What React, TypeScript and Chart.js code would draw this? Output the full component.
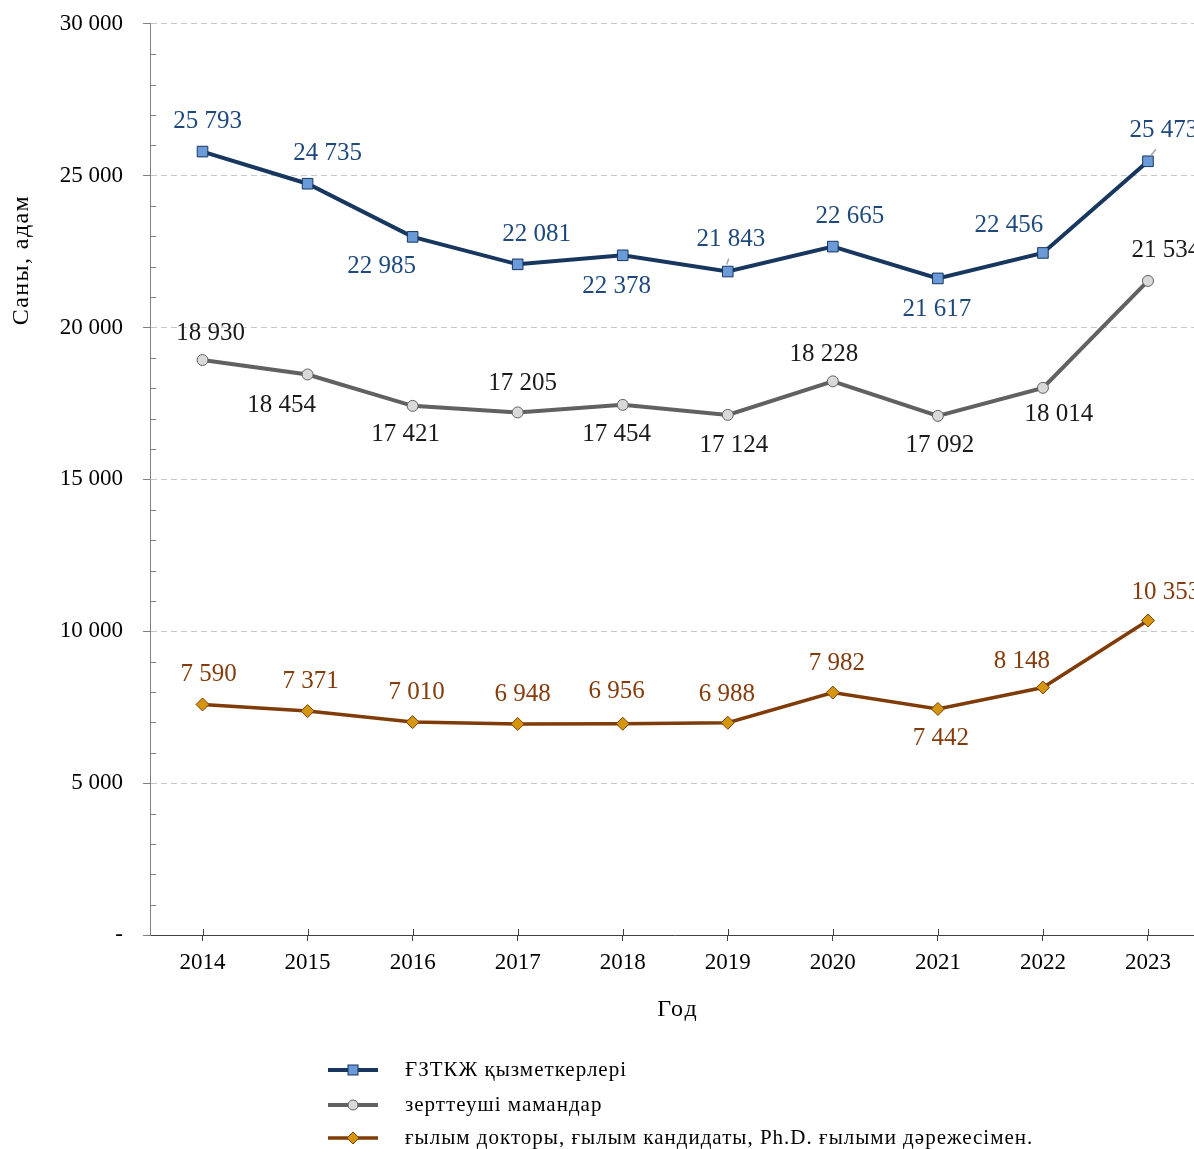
import React, { useEffect, useRef } from "react";
import { Chart, registerables } from "chart.js";

Chart.register(...registerables);

const years = ["2014", "2015", "2016", "2017", "2018", "2019", "2020", "2021", "2022", "2023"];
const staffValues = [25793, 24735, 22985, 22081, 22378, 21843, 22665, 21617, 22456, 25473];
const researcherValues = [18930, 18454, 17421, 17205, 17454, 17124, 18228, 17092, 18014, 21534];
const degreeValues = [7590, 7371, 7010, 6948, 6956, 6988, 7982, 7442, 8148, 10353];
const seriesNames = [
  "ҒЗТКЖ қызметкерлері",
  "зерттеуші мамандар",
  "ғылым докторы, ғылым кандидаты, Ph.D. ғылыми дәрежесімен.",
];
const yTicks = [0, 5000, 10000, 15000, 20000, 25000, 30000];
const yTitle = "Саны, адам";
const xTitle = "Год";

// label offsets (px) relative to each point
const staffOffsets = [[5, -30], [20, -30], [-31, 30], [19, -30], [-6, 31], [3, -32], [17, -30], [-1, 31], [-34, -27], [16, -31]];
const researcherOffsets = [[8, -27], [-26, 31], [-7, 29], [5, -29], [-6, 30], [6, 31], [-9, -27], [2, 30], [16, 27], [18, -31]];
const degreeOffsets = [[6, -30], [3, -30], [4, -30], [5, -30], [-6, -32], [-1, -28], [4, -29], [3, 29], [-21, -26], [18, -28]];
// leader lines for staff labels [index, x1, y1, x2, y2] relative to point
const staffLeaders = [[5, -1, -7, 1, -13], [9, 3, -6, 8, -12]];

const SERIF = '"Liberation Serif", "Times New Roman", serif';
const SHIFT = 10; // canvas is shifted up by this amount
const fmt = (v: number) => (v === 0 ? "-" : String(v).replace(/\B(?=(\d{3})+(?!\d))/g, " "));

const styles = [
  { line: "#17375E", fill: "#6A9AD8", border: "#17375E", text: "#1F497D", style: "rect", radius: 7.5, width: 4 },
  { line: "#616161", fill: "#D9D9D9", border: "#616161", text: "#1A1A1A", style: "circle", radius: 5.5, width: 4 },
  { line: "#7F3B08", fill: "#D4960F", border: "#7F3B08", text: "#843C0C", style: "rectRot", radius: 6.5, width: 3.5 },
];
const offsets = [staffOffsets, researcherOffsets, degreeOffsets];

export default function App() {
  const ref = useRef<HTMLCanvasElement>(null);
  useEffect(() => {
    if (!ref.current) return;
    const extras = {
      id: "extras",
      afterDatasetsDraw(chart: any) {
        const ctx = chart.ctx;
        ctx.save();
        const m0 = chart.getDatasetMeta(0);
        ctx.strokeStyle = "#A6A6A6";
        ctx.lineWidth = 1.5;
        staffLeaders.forEach(([i, x1, y1, x2, y2]) => {
          const p = m0.data[i];
          ctx.beginPath();
          ctx.moveTo(p.x + x1, p.y + y1);
          ctx.lineTo(p.x + x2, p.y + y2);
          ctx.stroke();
        });
        ctx.font = `25px ${SERIF}`;
        ctx.textAlign = "center";
        ctx.textBaseline = "middle";
        chart.data.datasets.forEach((ds: any, di: number) => {
          const meta = chart.getDatasetMeta(di);
          ctx.fillStyle = styles[di].text;
          meta.data.forEach((pt: any, i: number) => {
            const [dx, dy] = offsets[di][i];
            ctx.fillText(fmt(ds.data[i]), pt.x + dx, pt.y + dy);
          });
        });
        ctx.restore();
      },
      afterDraw(chart: any) {
        const ctx = chart.ctx;
        const y = chart.scales.y;
        const x = chart.scales.x;
        const area = chart.chartArea;
        ctx.save();
        // minor ticks on y axis
        ctx.strokeStyle = "#808080";
        ctx.lineWidth = 1;
        for (let v = 1000; v < 30000; v += 1000) {
          if (v % 5000 === 0) continue;
          const py = Math.round(y.getPixelForValue(v)) + 0.5;
          ctx.beginPath();
          ctx.moveTo(area.left, py);
          ctx.lineTo(area.left + 6, py);
          ctx.stroke();
        }
        // x ticks crossing axis (upper half)
        ctx.strokeStyle = "#404040";
        years.forEach((_, i) => {
          const px = Math.round(x.getPixelForValue(i)) + 0.5;
          ctx.beginPath();
          ctx.moveTo(px, area.bottom - 6);
          ctx.lineTo(px, area.bottom);
          ctx.stroke();
        });
        // y title
        ctx.fillStyle = "#000";
        ctx.font = `24px ${SERIF}`;
        (ctx as any).letterSpacing = "1.4px";
        ctx.textAlign = "center";
        ctx.textBaseline = "middle";
        ctx.save();
        ctx.translate(22, 260 + SHIFT);
        ctx.rotate(-Math.PI / 2);
        ctx.fillText(yTitle, 0, 0);
        ctx.restore();
        // x title
        (ctx as any).letterSpacing = "2px";
        ctx.fillText(xTitle, 678, 1010 + SHIFT);
        // legend
        ctx.font = `21px ${SERIF}`;
        (ctx as any).letterSpacing = "1px";
        ctx.textAlign = "left";
        const rows = [1070, 1105, 1138];
        seriesNames.forEach((name, i) => {
          const s = styles[i];
          const ry = rows[i] + SHIFT;
          ctx.strokeStyle = s.line;
          ctx.lineWidth = s.width;
          ctx.beginPath();
          ctx.moveTo(328, ry);
          ctx.lineTo(378, ry);
          ctx.stroke();
          ctx.fillStyle = s.fill;
          ctx.strokeStyle = s.border;
          ctx.lineWidth = 1;
          if (s.style === "rect") {
            ctx.fillRect(348, ry - 5, 10, 10);
            ctx.strokeRect(348, ry - 5, 10, 10);
          } else if (s.style === "circle") {
            ctx.beginPath();
            ctx.arc(353, ry, 5, 0, Math.PI * 2);
            ctx.fill();
            ctx.stroke();
          } else {
            ctx.beginPath();
            ctx.moveTo(353, ry - 6);
            ctx.lineTo(359, ry);
            ctx.lineTo(353, ry + 6);
            ctx.lineTo(347, ry);
            ctx.closePath();
            ctx.fill();
            ctx.stroke();
          }
          ctx.fillStyle = "#000";
          ctx.fillText(name, 405, ry);
        });
        ctx.restore();
      },
    };

    const chart = new Chart(ref.current, {
      type: "line",
      data: {
        labels: years,
        datasets: [staffValues, researcherValues, degreeValues].map((d, i) => ({
          label: seriesNames[i],
          data: d,
          borderColor: styles[i].line,
          borderWidth: styles[i].width,
          backgroundColor: styles[i].fill,
          pointBackgroundColor: styles[i].fill,
          pointBorderColor: styles[i].border,
          pointBorderWidth: 1,
          pointStyle: styles[i].style as any,
          pointRadius: styles[i].radius,
          tension: 0,
        })),
      },
      options: {
        responsive: false,
        animation: false,
        layout: { padding: { top: 0, left: 0, right: 0, bottom: 0 } },
        plugins: { legend: { display: false }, tooltip: { enabled: false } },
        scales: {
          x: {
            type: "category",
            offset: true,
            afterFit: (s: any) => { s.height = 214; },
            grid: { display: true, drawOnChartArea: false, offset: false, tickLength: 6, tickColor: "#404040" },
            border: { color: "#404040", width: 1 },
            ticks: { color: "#000", font: { family: SERIF, size: 23 }, padding: 8 },
          },
          y: {
            min: 0,
            max: 30000,
            afterFit: (s: any) => { s.width = 150; },
            afterBuildTicks: (s: any) => { s.ticks = yTicks.map((v) => ({ value: v })); },
            grid: {
              color: (c: any) => (c.tick && c.tick.value === 0 ? "rgba(0,0,0,0)" : "#C8C8C8"),
              tickColor: "#808080",
              tickLength: 7,
              tickBorderDash: [],
            },
            border: { color: "#808080", width: 1, dash: [6, 4] },
            ticks: {
              color: "#000",
              font: { family: SERIF, size: 23 },
              padding: 20,
              callback: (v: any) => fmt(Number(v)),
            },
          },
        },
      } as any,
      plugins: [extras],
    });
    return () => chart.destroy();
  }, []);

  return (
    <div style={{ position: "absolute", left: 0, top: 0, width: 1194, height: 1149, overflow: "hidden", background: "#fff" }}>
      <canvas ref={ref} width={1209} height={1149 + SHIFT} style={{ display: "block", marginTop: -SHIFT }} />
    </div>
  );
}
